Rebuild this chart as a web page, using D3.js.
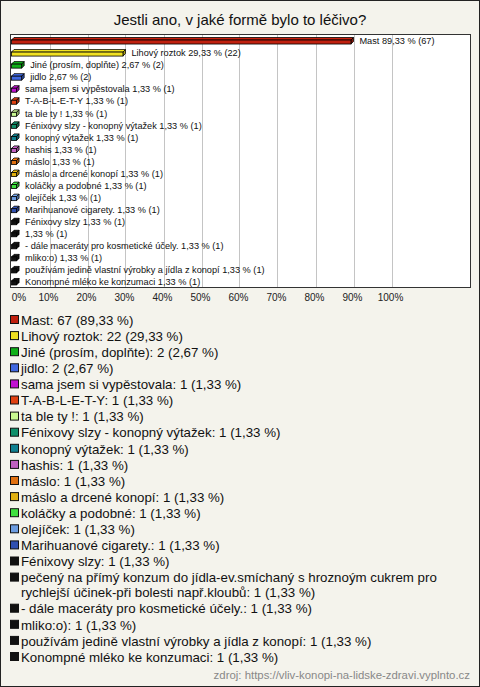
<!DOCTYPE html>
<html><head><meta charset="utf-8">
<script src="https://cdn.jsdelivr.net/npm/d3@7"></script>
<style>
html,body{margin:0;padding:0;background:#fff;}
svg{display:block;font-family:"Liberation Sans",Arial,sans-serif;}
</style></head>
<body>
<svg id="chart" width="480" height="687"></svg>
<script>
const title = "Jestli ano, v jaké formě bylo to léčivo?";
const categories = [
  "Mast","Lihový roztok","Jiné (prosím, doplňte)","jidlo","sama jsem si vypěstovala",
  "T-A-B-L-E-T-Y","ta ble ty !","Fénixovy slzy - konopný výtažek","konopný výtažek","hashis",
  "máslo","máslo a drcené konopí","koláčky a podobné","olejíček","Marihuanové cigarety.",
  "Fénixovy slzy","pečený na přímý konzum do jídla-ev.smíchaný s hroznoým cukrem pro rychlejší účinek-při bolesti např.kloubů",
  "- dále maceráty pro kosmetické účely.","mliko:o)","používám jedině vlastní výrobky a jídla z konopí","Konompné mléko ke konzumaci"
];
const chartLabels = [
  "Mast","Lihový roztok","Jiné (prosím, doplňte)","jidlo","sama jsem si vypěstovala",
  "T-A-B-L-E-T-Y","ta ble ty !","Fénixovy slzy - konopný výtažek","konopný výtažek","hashis",
  "máslo","máslo a drcené konopí","koláčky a podobné","olejíček","Marihuanové cigarety.",
  "Fénixovy slzy","",
  "- dále maceráty pro kosmetické účely.","mliko:o)","používám jedině vlastní výrobky a jídla z konopí","Konompné mléko ke konzumaci"
];
const counts = [67,22,2,2,1,1,1,1,1,1,1,1,1,1,1,1,1,1,1,1,1];
const percents = [89.33,29.33,2.67,2.67,1.33,1.33,1.33,1.33,1.33,1.33,1.33,1.33,1.33,1.33,1.33,1.33,1.33,1.33,1.33,1.33,1.33];
const colors = ["#c0200e","#f0e020","#10b018","#4068e0","#c010d0","#e04010","#c8f890","#10906a","#108090","#c060c0",
  "#e07010","#e0b010","#40e040","#6c9ce0","#3050b0","#111111","#111111","#111111","#111111","#111111","#111111"];
const tickValues = [0,10,20,30,40,50,60,70,80,90,100];
const tickLabels = ["0%","10%","20%","30%","40%","50%","60%","70%","80%","90%","100%"];
const source = "zdroj: https://vliv-konopi-na-lidske-zdravi.vyplnto.cz";

const fmt = v => v.toFixed(2).replace(".", ",");
const svg = d3.select("#chart");

svg.append("rect").attr("x",0.5).attr("y",0.5).attr("width",479).attr("height",686)
  .attr("fill","#f4f3ec").attr("stroke","#222").attr("stroke-width",1);

svg.append("text").attr("x",240).attr("y",25).attr("text-anchor","middle")
  .attr("font-size",15).attr("fill","#111").text(title);

const plot = {x0:10.5, y0:34.5, x1:470.5, y1:287.5};
svg.append("rect").attr("x",plot.x0).attr("y",plot.y0)
  .attr("width",plot.x1-plot.x0).attr("height",plot.y1-plot.y0)
  .attr("fill","#fff").attr("stroke","#333");

const x = d3.scaleLinear().domain([0,100]).range([11.5,391.5]);
const y = d3.scaleBand().domain(d3.range(categories.length)).range([35,288]);

svg.append("g").selectAll("line").data(tickValues.filter(v=>v>0)).join("line")
  .attr("x1",d=>Math.round(x(d))+0.5).attr("x2",d=>Math.round(x(d))+0.5)
  .attr("y1",plot.y0+0.5).attr("y2",plot.y1-0.5)
  .attr("stroke","#c4c4c4");

const depth = 2.5, fh = 4;
const bars = svg.append("g").selectAll("g").data(categories.map((c,i)=>i)).join("g");
bars.each(function(i){
  const g = d3.select(this);
  const cy = y(i) + y.bandwidth()/2;
  const x0 = x(0), x1 = x(percents[i]);
  const top = cy - 3.5, fy = top + depth;
  const col = d3.color(colors[i]);
  const dark = col.darker(0.9);
  const light = col.brighter(0.2);
  g.append("polygon")
    .attr("points",[[x0,fy],[x0+depth,top],[x1+depth,top],[x1,fy]].map(p=>p.join(",")).join(" "))
    .attr("fill",light).attr("stroke","#000").attr("stroke-width",0.8);
  g.append("polygon")
    .attr("points",[[x1,fy],[x1+depth,top],[x1+depth,top+fh],[x1,fy+fh]].map(p=>p.join(",")).join(" "))
    .attr("fill",dark).attr("stroke","#000").attr("stroke-width",0.8);
  g.append("rect").attr("x",x0).attr("y",fy).attr("width",x1-x0).attr("height",fh)
    .attr("fill",colors[i]).attr("stroke","#000").attr("stroke-width",0.8);
  const lbl = (chartLabels[i] ? chartLabels[i] + " " : "") + fmt(percents[i]) + " % (" + counts[i] + ")";
  g.append("text").attr("x",x1+depth+6).attr("y",cy+3.2)
    .attr("font-size",9.2).attr("fill","#111").text(lbl);
});

const axis = d3.axisBottom(x).tickValues(tickValues).tickSize(0)
  .tickFormat((d,i)=>tickLabels[i]);
const ag = svg.append("g").attr("transform","translate(0,291)").call(axis);
ag.select(".domain").remove();
ag.selectAll("text").attr("font-size",10).attr("font-family","Liberation Sans, Arial, sans-serif")
  .attr("fill","#222").attr("dx",(d,i)=> i===0 ? 7 : -1.5);

const lg = svg.append("g");
let ly = 320;
const wrapW = 445;
categories.forEach((c,i)=>{
  const t = lg.append("text").attr("x",21).attr("font-size",13.3).attr("fill","#111");
  const full = c + ": " + counts[i] + " (" + fmt(percents[i]) + " %)";
  const words = full.split(" ");
  let lines = [], cur = "";
  const tmp = t.append("tspan");
  words.forEach(w=>{
    const test = cur ? cur + " " + w : w;
    tmp.text(test);
    if (tmp.node().getComputedTextLength() > wrapW && cur) { lines.push(cur); cur = w; }
    else cur = test;
  });
  lines.push(cur);
  tmp.remove();
  lines.forEach((ln,k)=>{
    t.append("tspan").attr("x",21).attr("y",ly + 4.7 + k*15).text(ln);
  });
  lg.append("rect").attr("x",10.5).attr("y",ly-4.5).attr("width",8).attr("height",8)
    .attr("fill",colors[i]).attr("stroke","#111").attr("stroke-width",1);
  ly += 15*lines.length + 1.1;
});

svg.append("text").attr("x",470).attr("y",679).attr("text-anchor","end")
  .attr("font-size",11.4).attr("fill","#888").text(source);
</script>
</body></html>
